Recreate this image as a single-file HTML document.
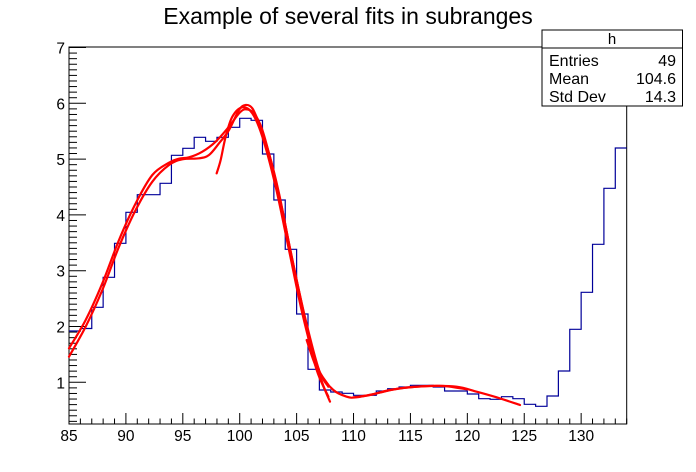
<!DOCTYPE html>
<html><head><style>
body{margin:0;background:#fff;}
svg{display:block;font-family:"Liberation Sans",Arial,sans-serif;}
</style></head><body>
<svg width="696" height="472" xmlns="http://www.w3.org/2000/svg">
<rect width="696" height="472" fill="#fff"/>
<text x="348" y="24" font-size="23" text-anchor="middle">Example of several fits in subranges</text>
<rect x="69" y="47" width="557.7" height="377" fill="none" stroke="#000" stroke-width="1"/>
<g id="ticks" stroke="#000" stroke-width="1"></g>
<g id="labels" font-size="15.5" fill="#000"></g>
<polyline id="hist" fill="none" stroke="#000099" stroke-width="1.2"/>
<g id="fits" fill="none" stroke="#ff0000" stroke-width="2.2" stroke-linejoin="round" stroke-linecap="round"></g>
<rect x="542" y="30" width="140.5" height="76" fill="#fff" stroke="#000"/>
<line x1="542" y1="48" x2="682.5" y2="48" stroke="#000"/>
<text x="612" y="44" font-size="15" text-anchor="middle">h</text>
<g font-size="16">
<text x="549" y="66">Entries</text><text x="676" y="66" text-anchor="end">49</text>
<text x="549" y="84">Mean</text><text x="676" y="84" text-anchor="end">104.6</text>
<text x="549" y="102">Std Dev</text><text x="676" y="102" text-anchor="end">14.3</text>
</g>
</svg>
<script>
const NS="http://www.w3.org/2000/svg";
const X=v=>69+(v-85)*11.381, Y=v=>382.3-(v-1)*55.8;
const tk=document.getElementById('ticks'), lb=document.getElementById('labels');
function ln(x1,y1,x2,y2){const l=document.createElementNS(NS,'line');l.setAttribute('x1',x1);l.setAttribute('y1',y1);l.setAttribute('x2',x2);l.setAttribute('y2',y2);tk.appendChild(l);}
function tx(x,y,s,a){const t=document.createElementNS(NS,'text');t.setAttribute('x',x);t.setAttribute('y',y);t.setAttribute('text-anchor',a);t.textContent=s;lb.appendChild(t);}
for(let v=85;v<=134;v++){const x=X(v);ln(x,424,x,v%5==0?413:418.5);if(v%5==0)tx(x,441,String(v),'middle');}
for(let i=3;i<=70;i++){const v=i/10;const y=Y(v);if(y<47)continue;ln(69,y,i%10==0?86:77,y);if(i%10==0)tx(65,y+6,String(v),'end');}
const tops=[331,328.5,307.3,277.3,243.3,212.3,194.7,194.7,183.3,155.3,148.3,137.3,141.3,137.3,127.3,118.3,120.3,154,200,249.3,314,369.3,390,392,393.3,395.3,395.3,391,388.7,387,385.3,385.3,387,391,391,394,398.7,399.3,396.7,398.7,404.3,406.3,396,371,329.3,292.3,244.3,188.3,148];
let p=[];
tops.forEach((y,i)=>{p.push([X(85+i),y]);p.push([X(86+i),y]);});
document.getElementById('hist').setAttribute('points',p.map(a=>a.join(',')).join(' '));
const fits=document.getElementById('fits');
function pl(pts,ox,oy){
  const P=pts.map(a=>[ox+a[0]/3,oy+a[1]/3]);
  let d='M'+P[0].join(',');
  for(let i=0;i<P.length-1;i++){
    const p0=P[i-1]||P[i],p1=P[i],p2=P[i+1],p3=P[i+2]||P[i+1];
    const c1=[p1[0]+(p2[0]-p0[0])/6,p1[1]+(p2[1]-p0[1])/6];
    const c2=[p2[0]-(p3[0]-p1[0])/6,p2[1]-(p3[1]-p1[1])/6];
    d+=' C'+c1.join(',')+' '+c2.join(',')+' '+p2.join(',');
  }
  const e=document.createElementNS(NS,'path');e.setAttribute('d',d);fits.appendChild(e);}
pl([[0,770],[50,680],[100,570],[150,440],[200,330],[250,245],[300,195],[340,178],[390,175],[420,165],[450,130],[480,90],[510,30],[530,15],[550,25],[570,70],[600,160],[630,280],[660,430],[700,620],[740,800],[778,890]],69,100);
pl([[0,745],[50,660],[100,550],[150,420],[200,310],[250,225],[300,188],[330,176],[360,172],[400,155],[440,125],[480,80],[510,40],[530,28],[555,40],[580,90],[610,200],[640,330],[670,480],[710,660],[750,810],[778,860]],69,100);
pl([[443,220],[455,180],[470,110],[490,50],[520,22],[550,40],[580,110],[620,260],[660,450],[700,640],[740,790],[778,855]],69,100);
pl([[50,0],[70,60],[90,110],[105,150],[120,185]],290,340);
pl([[60,30],[90,100],[130,150],[170,170],[200,172],[260,160],[330,145],[420,138],[500,140],[560,155],[620,172],[690,195]],290,340);
pl([[190,172],[240,165],[300,150],[380,140],[460,138],[530,148]],290,340);
</script>
</body></html>
